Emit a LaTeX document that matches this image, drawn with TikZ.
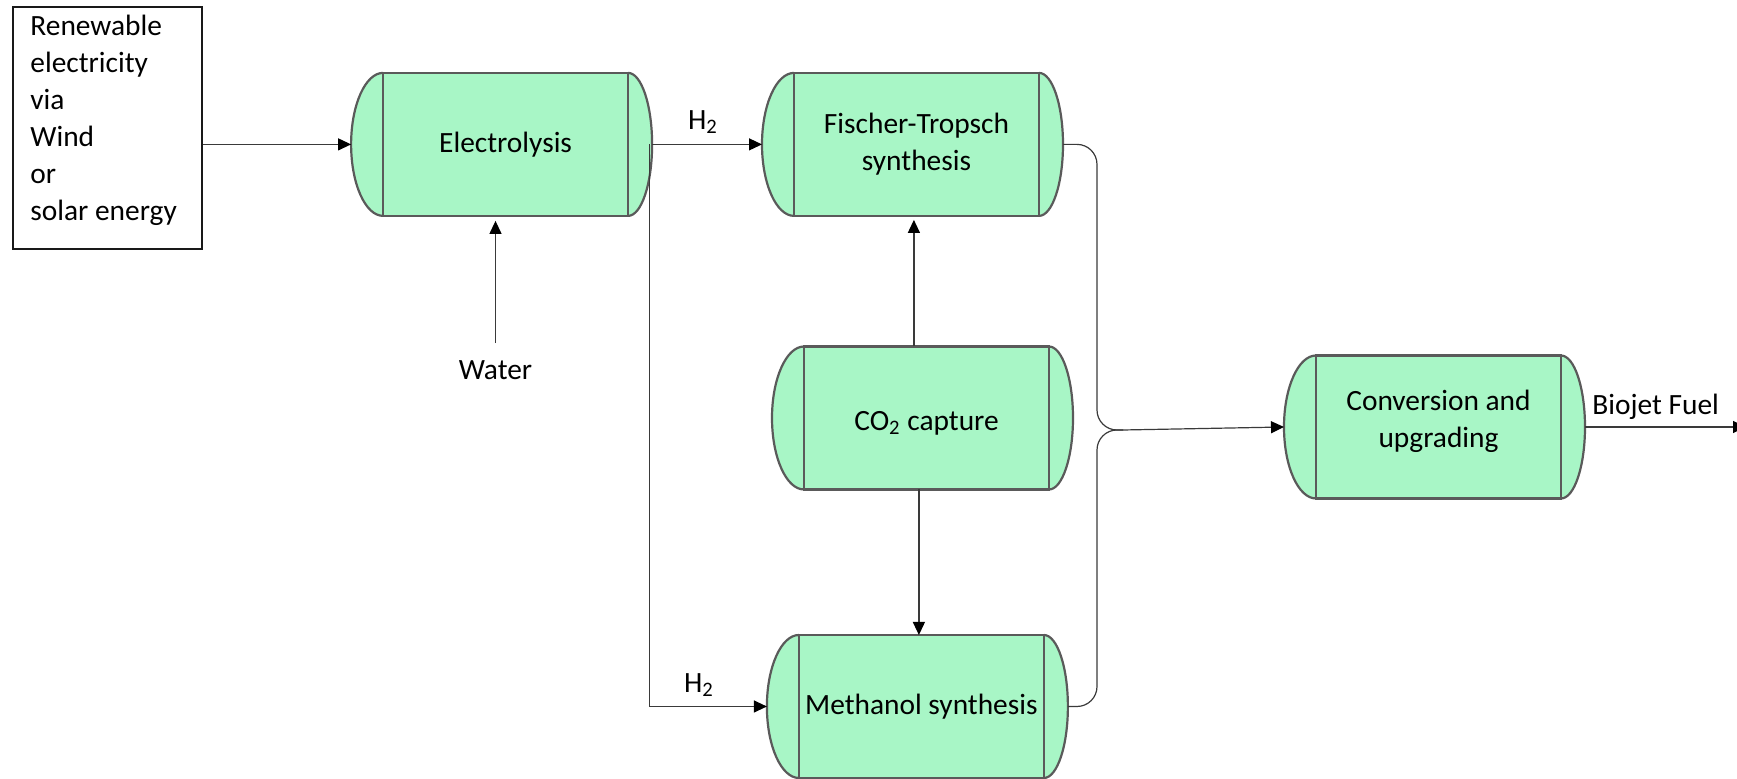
\documentclass[tikz,border=0pt]{standalone}
\usepackage{fontspec}
\setmainfont{Carlito}
\usetikzlibrary{arrows.meta,calc}

\definecolor{tankfill}{HTML}{A8F6C6}
\definecolor{tankline}{HTML}{5A5A5A}
\definecolor{wire}{HTML}{3A3A3A}

\tikzset{
  txt/.style={font=\fontsize{14.7pt}{18.5pt}\selectfont, text=black},
  tank/.style={txt, draw=tankline, line width=1.1pt, fill=tankfill,
    minimum width=122.5pt, minimum height=71.5pt, inner sep=0pt,
    outer sep=0pt, align=center},
  tanktext/.style={txt, align=center, inner sep=0pt},
  srcbox/.style={draw=black!90, line width=1pt, minimum width=94.5pt,
    minimum height=121pt, inner sep=0pt},
  lbl/.style={txt, inner sep=0pt},
  wireline/.style={draw=wire, line width=0.6pt},
  arr/.style={wireline, -{Triangle[length=6.5pt,width=6pt,color=black]}},
}

% end caps of a horizontal tank: wide on the left, narrower on the right
\newcommand{\tankcaps}[1]{%
  \fill[tankfill] (#1.north west) arc[start angle=90, end angle=270,
    x radius=16pt, y radius=35.75pt] -- cycle;
  \fill[tankfill] (#1.north east) arc[start angle=90, end angle=-90,
    x radius=12pt, y radius=35.75pt] -- cycle;
  \draw[tankline, line width=1.1pt] (#1.north west) arc[start angle=90,
    end angle=270, x radius=16pt, y radius=35.75pt];
  \draw[tankline, line width=1.1pt] (#1.north east) arc[start angle=90,
    end angle=-90, x radius=12pt, y radius=35.75pt];
  \draw[tankline, line width=1.1pt] (#1.north west) -- (#1.south west)
    (#1.north east) -- (#1.south east);
  \coordinate (#1-l) at ([xshift=-16pt]#1.west);
  \coordinate (#1-r) at ([xshift=12pt]#1.east);
}

\begin{document}
\begin{tikzpicture}[x=0.5pt, y=-0.5pt]
  \useasboundingbox (0,0) rectangle (1737,779);

  % energy source
  \node[srcbox] (src) at (107.5,128) {};
  \node[lbl, anchor=north west, align=left] (srctext) at (30,15)
    {Renewable\\electricity\\via\\Wind\\or\\solar energy};

  % process units
  \node[tank] (elec) at (505.6,144.4) {Electrolysis};
  \tankcaps{elec}
  \node[tank] (ft) at (916.5,144.4) {Fischer-Tropsch\\synthesis};
  \tankcaps{ft}
  \node[tank, label={[tanktext, yshift=-2.75pt]center:CO\textsubscript{2} capture}]
    (co2) at (926.5,418) {};
  \tankcaps{co2}
  \node[tank] (meth) at (921.4,706.5) {Methanol synthesis};
  \tankcaps{meth}
  \node[tank, label={[tanktext, yshift=3pt]center:Conversion and\\upgrading}]
    (conv) at (1438.5,427) {};
  \tankcaps{conv}

  % labels
  \node[lbl] (water) at (495.5,370) {Water};
  \node[lbl] (htop) at (703,122) {H\textsubscript{2}};
  \node[lbl] (hbot) at (699,685) {H\textsubscript{2}};
  \node[lbl, anchor=base west] (fuel) at (1592,415) {Biojet Fuel};

  \coordinate (merge) at (1123,430);
  \coordinate (fuelend) at (1746,427);

  % streams
  \draw[arr] (src.east |- elec-l) -- (elec-l);
  \draw[arr, shorten >=2.5pt] ([yshift=8.5pt]water.north) -- (water.north |- elec.south);
  \draw[arr] (elec-r) -- (ft-l);
  \draw[arr] ([xshift=-1.5pt]elec-r) |- (meth-l);
  \draw[arr, shorten >=2pt] ([xshift=-6.3pt]co2.north) -- ([xshift=-6.3pt]co2.north |- ft.south);
  \draw[arr] ([xshift=-3.8pt]co2.south) -- ([xshift=-3.8pt]co2.south |- meth.north);
  \draw[wireline, rounded corners=10pt] (ft-r) -| (1097,430) -- (merge);
  \draw[wireline, rounded corners=10pt] (meth-r) -| (1097,430) -- (merge);
  \draw[arr] (merge) -- (conv-l);
  \draw[arr] (conv-r) -- (fuelend);
\end{tikzpicture}
\end{document}
